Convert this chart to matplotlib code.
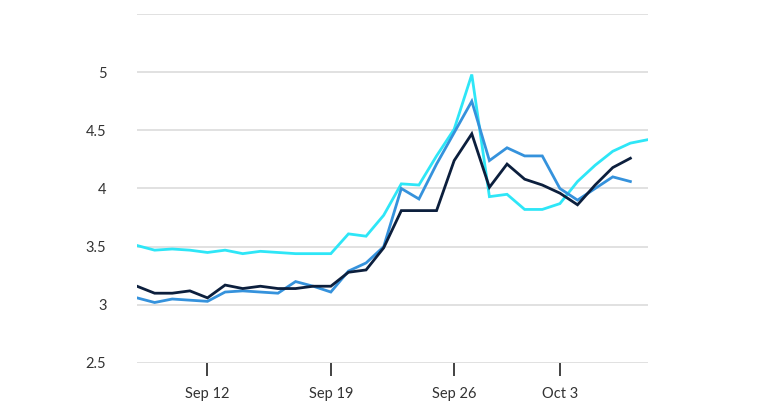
import matplotlib
matplotlib.use("Agg")
import matplotlib.pyplot as plt

plt.rcParams['font.family'] = ['Lato', 'DejaVu Sans']

# daily points starting Sep 8
days = list(range(30))
tick_pos = [4, 11, 18, 24]
tick_labels = ['Sep 12', 'Sep 19', 'Sep 26', 'Oct 3']

navy = [3.16, 3.10, 3.10, 3.12, 3.06, 3.17, 3.14, 3.16, 3.14, 3.14, 3.16, 3.16,
        3.28, 3.30, 3.49, 3.81, 3.81, 3.81, 4.24, 4.47, 4.01, 4.21, 4.08, 4.03,
        3.96, 3.86, 4.03, 4.18, 4.26]
blue = [3.06, 3.02, 3.05, 3.04, 3.03, 3.11, 3.12, 3.11, 3.10, 3.20, 3.16, 3.11,
        3.29, 3.36, 3.50, 4.00, 3.91, 4.21, 4.48, 4.75, 4.24, 4.35, 4.28, 4.28,
        4.00, 3.90, 4.00, 4.10, 4.06]
cyan = [3.51, 3.47, 3.48, 3.47, 3.45, 3.47, 3.44, 3.46, 3.45, 3.44, 3.44, 3.44,
        3.61, 3.59, 3.77, 4.04, 4.03, 4.28, 4.51, 4.98, 3.93, 3.95, 3.82, 3.82,
        3.87, 4.06, 4.20, 4.32, 4.39, 4.42]

fig = plt.figure(figsize=(7.63, 4.09), dpi=100)
ax = fig.add_axes([137/763, 1 - 363/409, (648 - 137)/763, (363 - 14)/409])

ax.plot(days[:len(cyan)], cyan, color='#2ee6f7', lw=2.0, solid_joinstyle='miter')
ax.plot(days[:len(blue)], blue, color='#3592dc', lw=2.0, solid_joinstyle='miter')
ax.plot(days[:len(navy)], navy, color='#0c1f3d', lw=2.0, solid_joinstyle='miter')

ax.set_xlim(0, 29)
ax.set_ylim(2.5, 5.5)
ax.set_yticks([2.5, 3, 3.5, 4, 4.5, 5, 5.5])
ax.set_yticklabels(['2.5', '3', '3.5', '4', '4.5', '5', ''])
ax.set_xticks(tick_pos)
ax.set_xticklabels(tick_labels)

ax.grid(axis='y', color='#dcdcdc', lw=1.2)
ax.set_axisbelow(True)
for s in ax.spines.values():
    s.set_visible(False)
ax.tick_params(axis='y', length=0, pad=22, labelsize=10.5, labelcolor='#333333')
ax.tick_params(axis='x', length=9, width=1.2, color='#222222', pad=8,
               labelsize=10.5, labelcolor='#333333')

fig.savefig('out.png', dpi=100)
